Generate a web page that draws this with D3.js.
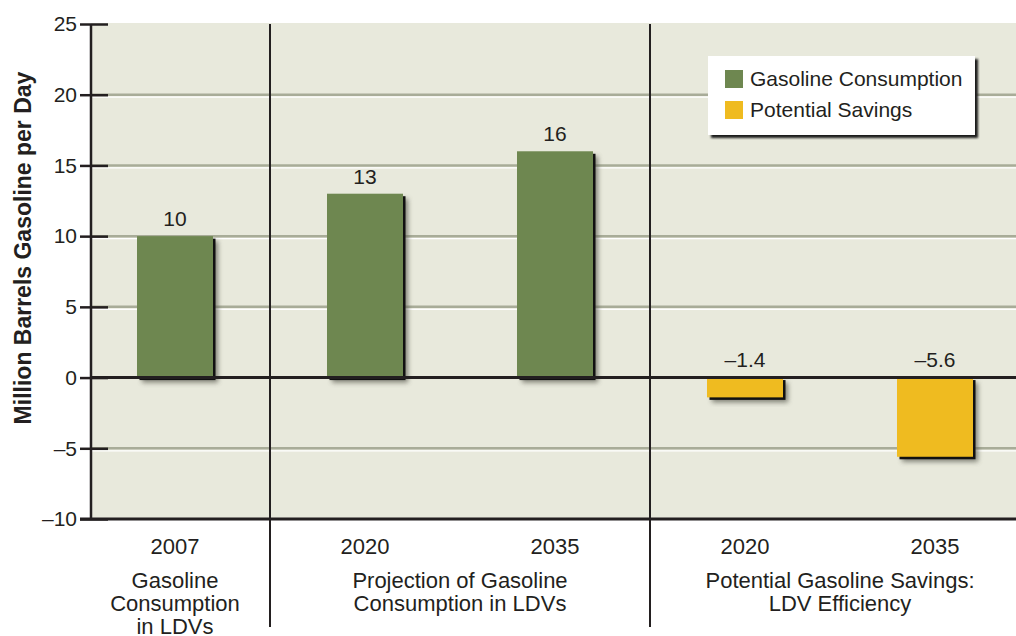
<!DOCTYPE html>
<html>
<head>
<meta charset="utf-8">
<script src="https://cdn.jsdelivr.net/npm/d3@7"></script>
<style>
  body { margin: 0; background: #fff; }
  text { font-family: "Liberation Sans", Arial, sans-serif; fill: #231f20; }
</style>
</head>
<body>
<div id="plot"></div>
<script>
const years = ["2007", "2020", "2035", "2020", "2035"];
const values = [10, 13, 16, -1.4, -5.6];
const valueLabels = ["10", "13", "16", "\u20131.4", "\u20135.6"];
const seriesOf = ["Gasoline Consumption", "Gasoline Consumption", "Gasoline Consumption", "Potential Savings", "Potential Savings"];
const seriesNames = ["Gasoline Consumption", "Potential Savings"];
const groupLabels = [["Gasoline", "Consumption", "in LDVs"], ["Projection of Gasoline", "Consumption in LDVs"], ["Potential Gasoline Savings:", "LDV Efficiency"]];
const groupSpans = [[0, 0], [1, 2], [3, 4]];
const yTicks = [-10, -5, 0, 5, 10, 15, 20, 25];
const gridTicks = [-5, 5, 10, 15, 20];

const W = 1016, H = 636;
const fs = 21;
const color = d3.scaleOrdinal().domain(seriesNames).range(["#6e8750", "#efbb20"]);

const svg = d3.select("#plot").append("svg").attr("width", W).attr("height", H);

const defs = svg.append("defs");
defs.append("filter").attr("id", "soft").attr("x", "-20%").attr("y", "-20%").attr("width", "140%").attr("height", "140%")
  .append("feGaussianBlur").attr("stdDeviation", 2.5);
defs.append("filter").attr("id", "soft2").attr("x", "-10%").attr("y", "-10%").attr("width", "120%").attr("height", "130%")
  .append("feGaussianBlur").attr("stdDeviation", 1.2);

const x = d3.scaleBand().domain(d3.range(years.length)).range([80, 1030]).paddingInner(0.6).paddingOuter(0.3);
const y = d3.scaleLinear().domain([-10, 25]).range([519, 24]);
const axisX = 91;
const cx = i => x(i) + x.bandwidth() / 2;

// plot background
svg.append("rect")
  .attr("x", axisX).attr("y", y(25) - 1)
  .attr("width", W - axisX).attr("height", y(-10) - y(25) + 1)
  .attr("fill", "#e8e9dc");

// gridlines (grey with white highlight below)
const grid = svg.append("g");
grid.selectAll(".g1").data(gridTicks).join("line")
  .attr("x1", axisX).attr("x2", W).attr("y1", d => y(d)).attr("y2", d => y(d))
  .attr("stroke", "#a8ac98").attr("stroke-width", 2.5);
grid.selectAll(".g2").data(gridTicks).join("line")
  .attr("x1", axisX).attr("x2", W).attr("y1", d => y(d) + 2.5).attr("y2", d => y(d) + 2.5)
  .attr("stroke", "#ffffff").attr("stroke-width", 1.2);

// bars with shadows
const bars = svg.append("g");
const barTop = i => y(Math.max(0, values[i]));
const barH = i => Math.abs(y(values[i]) - y(0));
const idx = d3.range(values.length);

bars.selectAll(".soft").data(idx).join("rect")
  .attr("x", i => x(i) + 5).attr("y", i => barTop(i) + 5)
  .attr("width", x.bandwidth()).attr("height", barH)
  .attr("fill", "#55564c").attr("opacity", 0.7).attr("filter", "url(#soft)");
bars.selectAll(".hard").data(idx).join("rect")
  .attr("x", i => x(i) + 2.5).attr("y", i => barTop(i) + 2.5)
  .attr("width", x.bandwidth()).attr("height", barH)
  .attr("fill", "#111");
bars.selectAll(".bar").data(idx).join("rect")
  .attr("x", i => x(i)).attr("y", barTop)
  .attr("width", x.bandwidth()).attr("height", barH)
  .attr("fill", i => color(seriesOf[i]));

// value labels
svg.append("g").selectAll("text").data(idx).join("text")
  .attr("x", cx)
  .attr("y", i => values[i] >= 0 ? y(values[i]) - 10 : y(0) - 11)
  .attr("text-anchor", "middle").attr("font-size", fs)
  .text(i => valueLabels[i]);

// zero line and bottom line
svg.append("line").attr("x1", axisX).attr("x2", W).attr("y1", y(0)).attr("y2", y(0))
  .attr("stroke", "#231f20").attr("stroke-width", 3);
svg.append("line").attr("x1", 80).attr("x2", W).attr("y1", y(-10)).attr("y2", y(-10))
  .attr("stroke", "#231f20").attr("stroke-width", 3);

// group separators
const seps = groupSpans.slice(1).map((s, k) => (cx(groupSpans[k][1]) + cx(s[0])) / 2);
svg.append("g").selectAll("line").data(seps).join("line")
  .attr("x1", d => d).attr("x2", d => d).attr("y1", y(25)).attr("y2", 627)
  .attr("stroke", "#231f20").attr("stroke-width", 2);

// y axis
const yAxis = svg.append("g").attr("transform", `translate(${axisX},0)`)
  .call(d3.axisLeft(y).tickValues(yTicks).tickSize(11).tickPadding(3)
    .tickFormat(d => d < 0 ? "\u2013" + Math.abs(d) : d));
yAxis.select(".domain").attr("stroke", "#231f20").attr("stroke-width", 2.5).attr("d", `M0,${y(25)}V${y(-10)}`);
yAxis.selectAll(".tick line").attr("stroke", "#231f20").attr("stroke-width", 2.5).attr("x2", 17).attr("x1", -11);
yAxis.selectAll(".tick text").attr("font-size", fs).attr("font-family", "Liberation Sans, Arial, sans-serif").attr("fill", "#231f20");

svg.append("text")
  .attr("transform", "translate(31,248) rotate(-90)")
  .attr("text-anchor", "middle").attr("font-size", 23).attr("font-weight", "bold")
  .text("Million Barrels Gasoline per Day");

// x labels
svg.append("g").selectAll("text").data(idx).join("text")
  .attr("x", cx).attr("y", 554).attr("text-anchor", "middle").attr("font-size", 22)
  .text(i => years[i]);

groupLabels.forEach((lines, g) => {
  const gx = (cx(groupSpans[g][0]) + cx(groupSpans[g][1])) / 2;
  svg.append("g").selectAll("text").data(lines).join("text")
    .attr("x", gx).attr("y", (d, k) => 588 + k * 23)
    .attr("text-anchor", "middle").attr("font-size", 22)
    .text(d => d);
});

// legend
const legend = svg.append("g").attr("transform", "translate(708,56)");
legend.append("rect").attr("x", 3).attr("y", 3).attr("width", 267).attr("height", 79)
  .attr("fill", "#1a1a1a").attr("filter", "url(#soft2)");
legend.append("rect").attr("width", 267).attr("height", 79).attr("fill", "#fff");
const item = legend.selectAll(".item").data(seriesNames).join("g")
  .attr("transform", (d, i) => `translate(17,${14 + i * 31})`);
item.append("rect").attr("width", 18).attr("height", 18).attr("fill", d => color(d));
item.append("text").attr("x", 25).attr("y", 16).attr("font-size", fs).text(d => d);
</script>
</body>
</html>
